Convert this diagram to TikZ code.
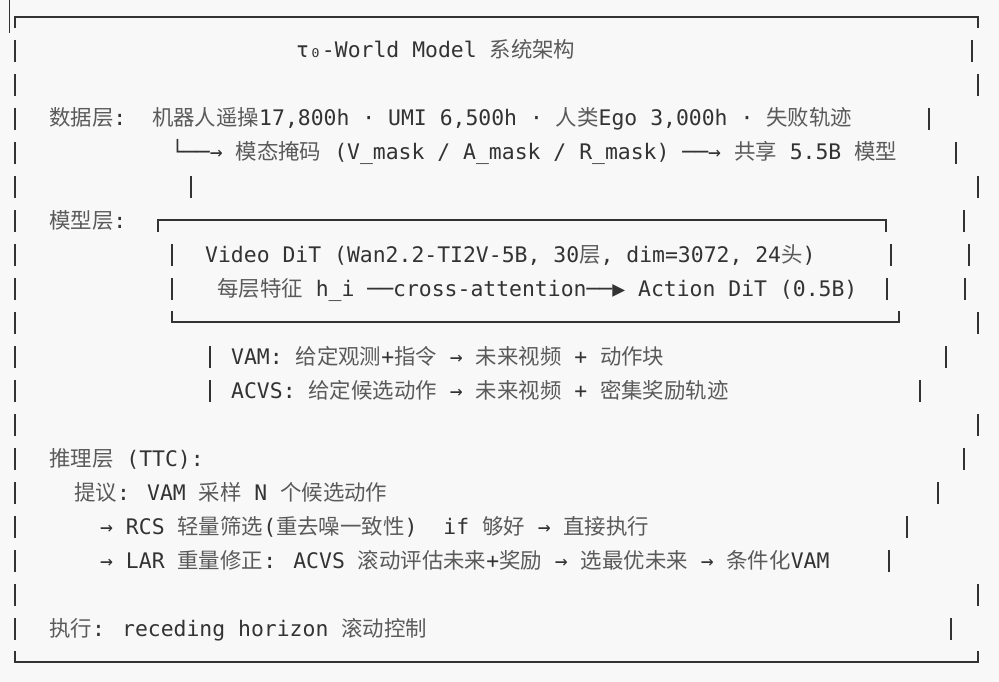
\documentclass[tikz,border=0pt]{standalone}
\usepackage{fontspec}
\usepackage{tikz}
\usepackage{xcolor}
\newfontfamily\mono{DejaVu Sans Mono}
\newfontfamily\cjk{Noto Sans CJK SC}
\definecolor{ink}{HTML}{333333}
\definecolor{zhgray}{HTML}{5A5A5A}
\definecolor{paper}{HTML}{F8F8F8}
\newcommand{\zh}[1]{{\cjk\color{zhgray}#1}}

\begin{document}
\begin{tikzpicture}[x=1pt,y=1pt,
  txt/.style={anchor=base west,inner sep=0pt,text=ink,font=\mono\fontsize{21.42}{26}\selectfont},
  frame/.style={draw=ink,line width=1.8pt},
  bar/.style={draw=ink,line width=1.3pt}]
\fill [paper] (0,0) rectangle (999,-682);
\useasboundingbox (0,0) rectangle (999,-682);
\draw [bar,line width=1pt] (9,0) -- (9,-33);
% outer frame
\draw [frame] (15,-28) -- (15,-17) -- (978,-17) -- (978,-28);
\draw [frame] (15,-651) -- (15,-662) -- (978,-662) -- (978,-651);
\draw [bar] (15,-40) -- (15,-62);
\draw [bar] (15,-74) -- (15,-96);
\draw [bar] (15,-108) -- (15,-130);
\draw [bar] (15,-142) -- (15,-164);
\draw [bar] (15,-176) -- (15,-198);
\draw [bar] (15,-210) -- (15,-232);
\draw [bar] (15,-244) -- (15,-266);
\draw [bar] (15,-278) -- (15,-300);
\draw [bar] (15,-312) -- (15,-334);
\draw [bar] (15,-346) -- (15,-368);
\draw [bar] (15,-380) -- (15,-402);
\draw [bar] (15,-414) -- (15,-436);
\draw [bar] (15,-448) -- (15,-470);
\draw [bar] (15,-482) -- (15,-504);
\draw [bar] (15,-516) -- (15,-538);
\draw [bar] (15,-550) -- (15,-572);
\draw [bar] (15,-584) -- (15,-606);
\draw [bar] (15,-618) -- (15,-640);
\draw [bar] (972,-40) -- (972,-62);
\draw [bar] (978,-74) -- (978,-96);
\draw [bar] (929,-108) -- (929,-130);
\draw [bar] (956,-142) -- (956,-164);
\draw [bar] (978,-176) -- (978,-198);
\draw [bar] (964,-210) -- (964,-232);
\draw [bar] (969,-244) -- (969,-266);
\draw [bar] (965,-278) -- (965,-300);
\draw [bar] (978,-312) -- (978,-334);
\draw [bar] (946,-346) -- (946,-368);
\draw [bar] (920,-380) -- (920,-402);
\draw [bar] (978,-414) -- (978,-436);
\draw [bar] (964,-448) -- (964,-470);
\draw [bar] (938,-482) -- (938,-504);
\draw [bar] (907,-516) -- (907,-538);
\draw [bar] (889,-550) -- (889,-572);
\draw [bar] (978,-584) -- (978,-606);
\draw [bar] (951,-618) -- (951,-640);
% inner box
\draw [frame] (158,-232) -- (158,-220) -- (886,-220) -- (886,-232);
\draw [frame] (172,-311) -- (172,-322) -- (899,-322) -- (899,-311);
\draw [bar] (172,-244) -- (172,-266);
\draw [bar] (891,-244) -- (891,-266);
\draw [bar] (172,-278) -- (172,-300);
\draw [bar] (887,-278) -- (887,-300);
\draw [bar] (191,-176) -- (191,-198);
\draw [bar] (210,-346) -- (210,-368);
\draw [bar] (210,-380) -- (210,-402);
% texts
\node [txt] (title) at (296,-58) {τ₀-World Model \zh{系统架构}};
\node [txt] (data) at (49,-126) {\zh{数据层}:~~\zh{机器人遥操}17,800h · UMI 6,500h · \zh{人类}Ego 3,000h · \zh{失败轨迹}};
\node [txt] (mask) at (171,-160) {└──→ \zh{模态掩码} (V\_mask / A\_mask / R\_mask) ──→ \zh{共享} 5.5B \zh{模型}};
\node [txt] (model) at (49,-228) {\zh{模型层}:};
\node [txt] (video) at (205,-262) {Video DiT (Wan2.2-TI2V-5B, 30\zh{层}, dim=3072, 24\zh{头})};
\node [txt] (action) at (217,-296) {\zh{每层特征} h\_i ──cross-attention──▶ Action DiT (0.5B)};
\node [txt] (vam) at (231,-364) {VAM: \zh{给定观测}+\zh{指令} → \zh{未来视频} + \zh{动作块}};
\node [txt] (acvs) at (231,-398) {ACVS: \zh{给定候选动作} → \zh{未来视频} + \zh{密集奖励轨迹}};
\node [txt] (infer) at (49,-466) {\zh{推理层} (TTC):};
\node [txt] (propose) at (74,-500) {\zh{提议}: VAM \zh{采样} N \zh{个候选动作}};
\node [txt] (rcs) at (100,-534) {→ RCS \zh{轻量筛选}(\zh{重去噪一致性})~~if \zh{够好} → \zh{直接执行}};
\node [txt] (lar) at (100,-568) {→ LAR \zh{重量修正}: ACVS \zh{滚动评估未来}+\zh{奖励} → \zh{选最优未来} → \zh{条件化}VAM};
\node [txt] (exec) at (49,-636) {\zh{执行}: receding horizon \zh{滚动控制}};
\end{tikzpicture}
\end{document}
